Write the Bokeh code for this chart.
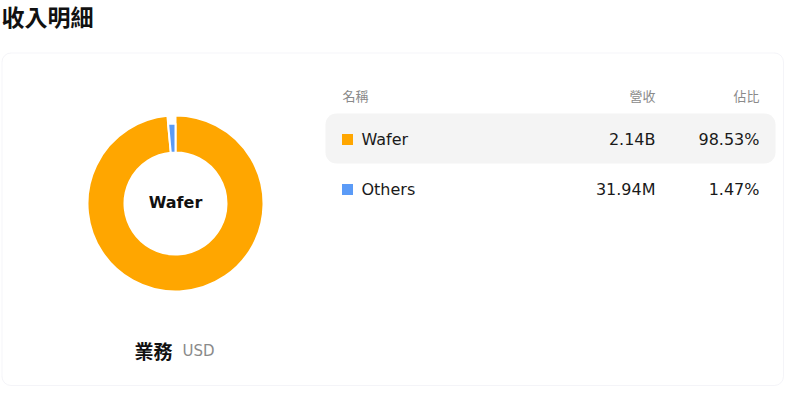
import math
from bokeh.plotting import figure
from bokeh.models import Range1d, BoxAnnotation
from bokeh.core.properties import value
from bokeh.embed import file_html
from bokeh.resources import INLINE

# ---- data ----
title_text = "收入明細"
categories = ["Wafer", "Others"]
revenue = [2.14e9, 31.94e6]
revenue_labels = ["2.14B", "31.94M"]
shares = [98.53, 1.47]
share_labels = ["98.53%", "1.47%"]
header_labels = ["名稱", "營收", "佔比"]
center_label = "Wafer"
footer_label = "業務"
currency_label = "USD"
colors = ["#FFA600", "#5B9BF7"]

W, H = 784, 386
CJK = value("Noto Sans CJK TC")
LAT = value("DejaVu Sans")


def X(rx):
    return rx


def Y(ry):
    return H - ry


p = figure(width=W, height=H, x_range=Range1d(0, W), y_range=Range1d(0, H),
           x_axis_type=None, y_axis_type=None, toolbar_location=None,
           output_backend="svg", min_border=0)
p.grid.visible = False
p.outline_line_color = None
p.background_fill_color = "white"
p.border_fill_color = "white"

# card
p.add_layout(BoxAnnotation(left=1.5, right=W - 1, top=Y(52.5), bottom=1,
                           border_radius=9, fill_color=None,
                           line_color="#dcdce8", line_width=1, level="underlay"))

# title
p.text(x=[X(1)], y=[Y(15)], text=[title_text], text_font=CJK, text_font_size="23px",
       text_font_style="bold", text_baseline="middle", text_align="left", text_color="#111111")

# donut
cx, cy = X(175), Y(203)
start = math.pi / 2
acc = 0.0
outer_r = [88, 80]
for i, s in enumerate(shares):
    a0 = start - acc / 100 * 2 * math.pi
    acc += s
    a1 = start - acc / 100 * 2 * math.pi
    p.annular_wedge(x=[cx], y=[cy], inner_radius=51, outer_radius=outer_r[i],
                    start_angle=[a0], end_angle=[a1], direction="clock",
                    fill_color=colors[i], line_color="white", line_width=2)

p.text(x=[cx], y=[Y(202)], text=[center_label], text_font=LAT, text_font_size="16px",
       text_font_style="bold", text_align="center", text_baseline="middle", text_color="#111111")

# footer under donut
p.text(x=[X(134)], y=[Y(350)], text=[footer_label], text_font=CJK, text_font_size="19px",
       text_font_style="bold", text_align="left", text_baseline="middle", text_color="#111111")
p.text(x=[X(182)], y=[Y(350)], text=[currency_label], text_font=LAT, text_font_size="15px",
       text_align="left", text_baseline="middle", text_color="#8a8a8a")

# table header
hy = Y(95)
p.text(x=[X(342)], y=[hy], text=[header_labels[0]], text_font=CJK, text_font_size="13px",
       text_align="left", text_baseline="middle", text_color="#8a8a8a")
p.text(x=[X(655), X(759)], y=[hy, hy], text=header_labels[1:], text_font=CJK,
       text_font_size="13px", text_align="right", text_baseline="middle", text_color="#8a8a8a")

# highlighted first row
p.add_layout(BoxAnnotation(left=X(325), right=X(775), top=Y(113), bottom=Y(163),
                           border_radius=11, fill_color="#f4f4f4", fill_alpha=1,
                           line_color=None, level="underlay"))

row_y = [Y(139), Y(189)]
p.scatter(x=[X(347)] * len(categories), y=row_y, marker="square", size=11,
          fill_color=colors, line_color=None)
p.text(x=[X(361)] * len(categories), y=row_y, text=categories, text_font=LAT,
       text_font_size="16px", text_align="left", text_baseline="middle", text_color="#1a1a1a")
p.text(x=[X(655)] * len(categories), y=row_y, text=revenue_labels, text_font=LAT,
       text_font_size="16px", text_align="right", text_baseline="middle", text_color="#1a1a1a")
p.text(x=[X(759)] * len(categories), y=row_y, text=share_labels, text_font=LAT,
       text_font_size="16px", text_align="right", text_baseline="middle", text_color="#1a1a1a")

open("out.html", "w").write(file_html(p, INLINE))
